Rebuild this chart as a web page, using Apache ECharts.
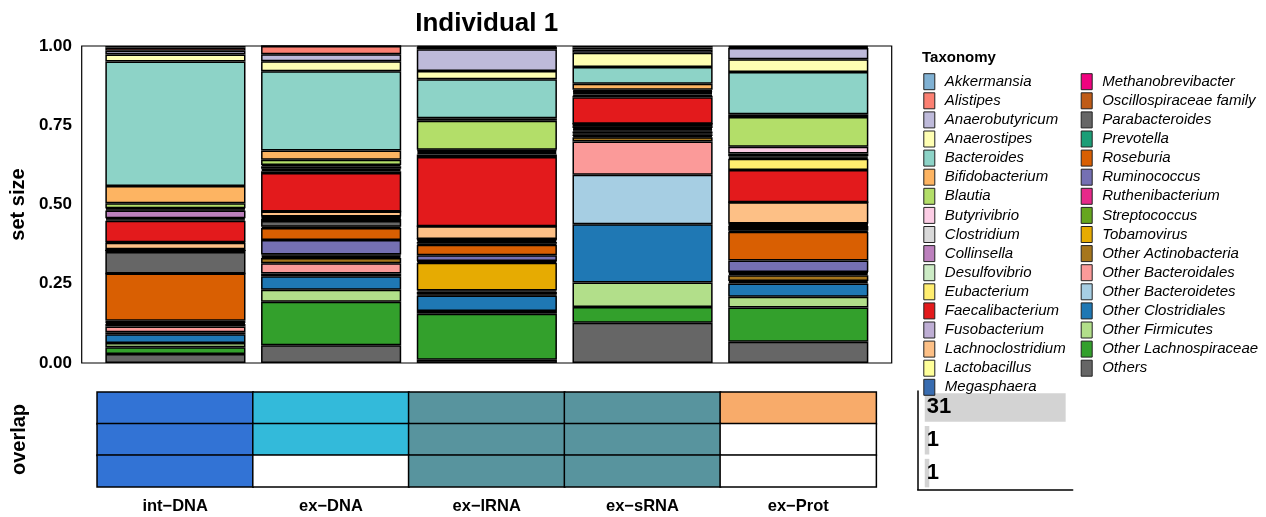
<!DOCTYPE html>
<html>
<head>
<meta charset="utf-8">
<script src="https://cdn.jsdelivr.net/npm/echarts@6/dist/echarts.min.js"></script>
<style>
  html, body { margin: 0; padding: 0; background: #ffffff; }
  #chart { width: 1266px; height: 517px; }
</style>
</head>
<body>
<div id="chart"></div>
<script>
// Samples (x categories), in plotting order
const samples = ['int\u2212DNA', 'ex\u2212DNA', 'ex\u2212lRNA', 'ex\u2212sRNA', 'ex\u2212Prot'];

// Taxa in legend order (top of each stacked bar first)
const taxa = [
  'Akkermansia', 'Alistipes', 'Anaerobutyricum', 'Anaerostipes', 'Bacteroides',
  'Bifidobacterium', 'Blautia', 'Butyrivibrio', 'Clostridium', 'Collinsella',
  'Desulfovibrio', 'Eubacterium', 'Faecalibacterium', 'Fusobacterium',
  'Lachnoclostridium', 'Lactobacillus', 'Megasphaera', 'Methanobrevibacter',
  'Oscillospiraceae family', 'Parabacteroides', 'Prevotella', 'Roseburia',
  'Ruminococcus', 'Ruthenibacterium', 'Streptococcus', 'Tobamovirus',
  'Other Actinobacteria', 'Other Bacteroidales', 'Other Bacteroidetes',
  'Other Clostridiales', 'Other Firmicutes', 'Other Lachnospiraceae', 'Others'
];

// Relative abundance per sample, one value per taxon (same order as taxa)
const intDNA = [0.005, 0.010, 0.012, 0.022, 0.393, 0.054, 0.016, 0.003, 0.004, 0.024,
                0.004, 0.004, 0.068, 0.002, 0.020, 0.003, 0, 0, 0.006, 0.068,
                0, 0.149, 0.004, 0, 0.003, 0.003, 0.008, 0.018, 0.006, 0.028,
                0.013, 0.022, 0.028];
const exDNA  = [0, 0.026, 0.022, 0.032, 0.250, 0.029, 0.016, 0.004, 0.008, 0.004,
                0.004, 0.006, 0.121, 0, 0.016, 0.002, 0.003, 0.003, 0.006, 0.018,
                0.004, 0.038, 0.046, 0.003, 0.004, 0.004, 0.016, 0.033, 0.008, 0.043,
                0.038, 0.137, 0.056];
const exLRNA = [0.003, 0.007, 0.069, 0.026, 0.123, 0.008, 0.091, 0.003, 0.004, 0.004,
                0.004, 0.008, 0.219, 0, 0.040, 0, 0.002, 0.003, 0.004, 0.006,
                0.003, 0.033, 0.018, 0.002, 0.004, 0.087, 0.004, 0.009, 0.003, 0.049,
                0.009, 0.145, 0.010];
const exSRNA = [0.005, 0.006, 0.010, 0.045, 0.053, 0.019, 0.004, 0.003, 0.004, 0.004,
                0.004, 0.005, 0.083, 0, 0.002, 0.002, 0.002, 0.002, 0.006, 0.004,
                0.003, 0.004, 0.006, 0.003, 0.005, 0.004, 0.013, 0.105, 0.156, 0.184,
                0.077, 0.050, 0.127];
const exProt = [0.003, 0.003, 0.036, 0.040, 0.133, 0.009, 0.094, 0.021, 0.009, 0.004,
                0.004, 0.035, 0.102, 0, 0.067, 0.002, 0.003, 0.003, 0.006, 0.009,
                0.003, 0.091, 0.036, 0.002, 0.004, 0.004, 0.018, 0.004, 0.004, 0.042,
                0.034, 0.108, 0.067];

// Overlap matrix: which samples share each taxon set (rows) and the set sizes
const overlapRows = [
  [1, 1, 1, 1, 1],
  [1, 1, 1, 1, 0],
  [1, 0, 1, 1, 0]
];
const overlapSizes = [31, 1, 1];

// Y-axis ticks of the composition panel
const yTicks = [0, 0.25, 0.5, 0.75, 1];

// Palettes
const taxonColors = [
  '#80B1D3', '#FB8072', '#BEBADA', '#FFFFB3', '#8DD3C7', '#FDB462', '#B3DE69',
  '#FCCDE5', '#D9D9D9', '#BC80BD', '#CCEBC5', '#FFED6F', '#E31A1C', '#BEAED4',
  '#FDC086', '#FFFF99', '#386CB0', '#F0027F', '#BF5B17', '#666666', '#1B9E77',
  '#D95F02', '#7570B3', '#E7298A', '#66A61E', '#E6AB02', '#A6761D', '#FB9A99',
  '#A6CEE3', '#1F78B4', '#B2DF8A', '#33A02C', '#666666'
];
const sampleColors = ['#3273D5', '#33BADA', '#58949E', '#58949E', '#F8AB6A'];

const FONT = "'Liberation Sans', Arial, Helvetica, sans-serif";

const chart = echarts.init(document.getElementById('chart'), null, { renderer: 'canvas' });

// Framed panel; the category bands sit inside it with 0.6 band of padding at each side
// (range from 0.4 to n + 0.6, i.e. n + 0.2 band units)
const panel = { left: 81.7, top: 46, width: 810, height: 317 };
const unitPx = panel.width / (samples.length + 0.2);
const bands = { left: panel.left + 0.1 * unitPx, width: samples.length * unitPx };

const composition = [intDNA, exDNA, exLRNA, exSRNA, exProt];

// Stack from the bottom: last taxon first
const barSeries = taxa.map((name, t) => ({
  type: 'bar',
  name: name,
  stack: 'taxa',
  xAxisIndex: 0,
  yAxisIndex: 0,
  barWidth: '90%',
  data: composition.map(col => col[t]),
  itemStyle: { color: taxonColors[t], borderColor: '#000000', borderWidth: 1.5 },
  emphasis: { disabled: true },
  silent: true
})).reverse();

// Overlap heatmap cells
const cells = [];
overlapRows.forEach((row, r) => {
  row.forEach((v, c) => {
    cells.push({ value: [c, r, v], itemStyle: { color: v ? sampleColors[c] : '#ffffff' } });
  });
});

const sizeMax = Math.max(...overlapSizes);
const hidden = { axisLine: { show: false }, axisTick: { show: false }, axisLabel: { show: false }, splitLine: { show: false } };

const option = {
  animation: false,
  backgroundColor: '#ffffff',
  textStyle: { fontFamily: FONT },
  title: [{
    text: 'Taxonomy',
    left: 922,
    top: 50,
    padding: 0,
    textStyle: { fontSize: 15, fontWeight: 'bold', color: '#000', fontFamily: FONT }
  }],
  graphic: [{
    type: 'text',
    x: panel.left + panel.width / 2,
    y: 23.5,
    style: {
      text: 'Individual 1',
      align: 'center',
      verticalAlign: 'middle',
      font: 'bold 26px ' + FONT,
      fill: '#000'
    }
  }],
  legend: [0, 1].map(k => ({
    data: k === 0 ? taxa.slice(0, 17) : taxa.slice(17),
    orient: 'vertical',
    left: k === 0 ? 923.3 : 1080.7,
    top: 73.2,
    padding: 0,
    itemWidth: 11,
    itemHeight: 16,
    itemGap: 2.1,
    icon: 'rect',
    selectedMode: false,
    itemStyle: { borderColor: '#222', borderWidth: 1 },
    textStyle: { fontSize: 15, fontStyle: 'italic', color: '#000', fontFamily: FONT, padding: [0, 0, 0, 5] }
  })),
  grid: [
    { left: bands.left, top: panel.top, width: bands.width, height: panel.height, containLabel: false },
    { left: bands.left, top: 392.3, width: bands.width, height: 94.4, containLabel: false },
    { left: 917.7, top: 391, width: 155, height: 98.5, containLabel: false },
    { left: panel.left, top: panel.top, width: panel.width, height: panel.height,
      show: true, borderColor: '#000', borderWidth: 1.2, containLabel: false, z: 0 }
  ],
  xAxis: [
    Object.assign({ type: 'category', gridIndex: 0, data: samples }, hidden),
    { type: 'category', gridIndex: 1, data: samples,
      axisLine: { show: false }, axisTick: { show: false }, splitLine: { show: false },
      axisLabel: { interval: 0, margin: 11, fontSize: 16.5, fontWeight: 'bold', color: '#000', fontFamily: FONT } },
    { type: 'value', gridIndex: 2, min: -0.05 * sizeMax, max: 1.05 * sizeMax,
      axisLine: { show: true, onZero: false, lineStyle: { color: '#000', width: 1.5 } },
      axisTick: { show: false }, axisLabel: { show: false }, splitLine: { show: false } },
    Object.assign({ type: 'value', gridIndex: 3, min: 0, max: 1 }, hidden)
  ],
  yAxis: [
    { type: 'value', gridIndex: 0, min: yTicks[0], max: yTicks[yTicks.length - 1], interval: yTicks[1] - yTicks[0],
      axisLine: { show: false }, axisTick: { show: false }, splitLine: { show: false },
      axisLabel: { margin: 10 + 0.1 * unitPx, fontSize: 17, fontWeight: 'bold', color: '#000', fontFamily: FONT,
                   formatter: v => v.toFixed(2) },
      name: 'set size', nameLocation: 'middle', nameGap: 44 + 0.1 * unitPx, nameRotate: 90,
      nameTextStyle: { fontSize: 20, fontWeight: 'bold', color: '#000', fontFamily: FONT } },
    { type: 'category', gridIndex: 1, data: overlapRows.map((_, r) => String(r)), inverse: true,
      axisLine: { show: false }, axisTick: { show: false }, axisLabel: { show: false }, splitLine: { show: false },
      name: 'overlap', nameLocation: 'middle', nameGap: 68, nameRotate: 90,
      nameTextStyle: { fontSize: 20, fontWeight: 'bold', color: '#000', fontFamily: FONT } },
    { type: 'category', gridIndex: 2, data: overlapSizes.map((_, r) => String(r)), inverse: true,
      axisLine: { show: true, onZero: false, lineStyle: { color: '#000', width: 1.5 } },
      axisTick: { show: false }, axisLabel: { show: false }, splitLine: { show: false } },
    Object.assign({ type: 'value', gridIndex: 3, min: 0, max: 1 }, hidden)
  ],
  series: barSeries.concat([
    {
      type: 'heatmap',
      xAxisIndex: 1,
      yAxisIndex: 1,
      data: cells,
      itemStyle: { borderColor: '#000', borderWidth: 1.5 },
      emphasis: { disabled: true },
      silent: true
    },
    {
      type: 'bar',
      xAxisIndex: 2,
      yAxisIndex: 2,
      barWidth: 28.5,
      data: overlapSizes,
      itemStyle: { color: '#D3D3D3' },
      label: { show: true, position: 'insideLeft', distance: 2, formatter: p => String(p.value),
               fontSize: 22, fontWeight: 'bold', color: '#000', fontFamily: FONT },
      emphasis: { disabled: true },
      silent: true
    }
  ])
};

chart.setOption(option);
</script>
</body>
</html>
